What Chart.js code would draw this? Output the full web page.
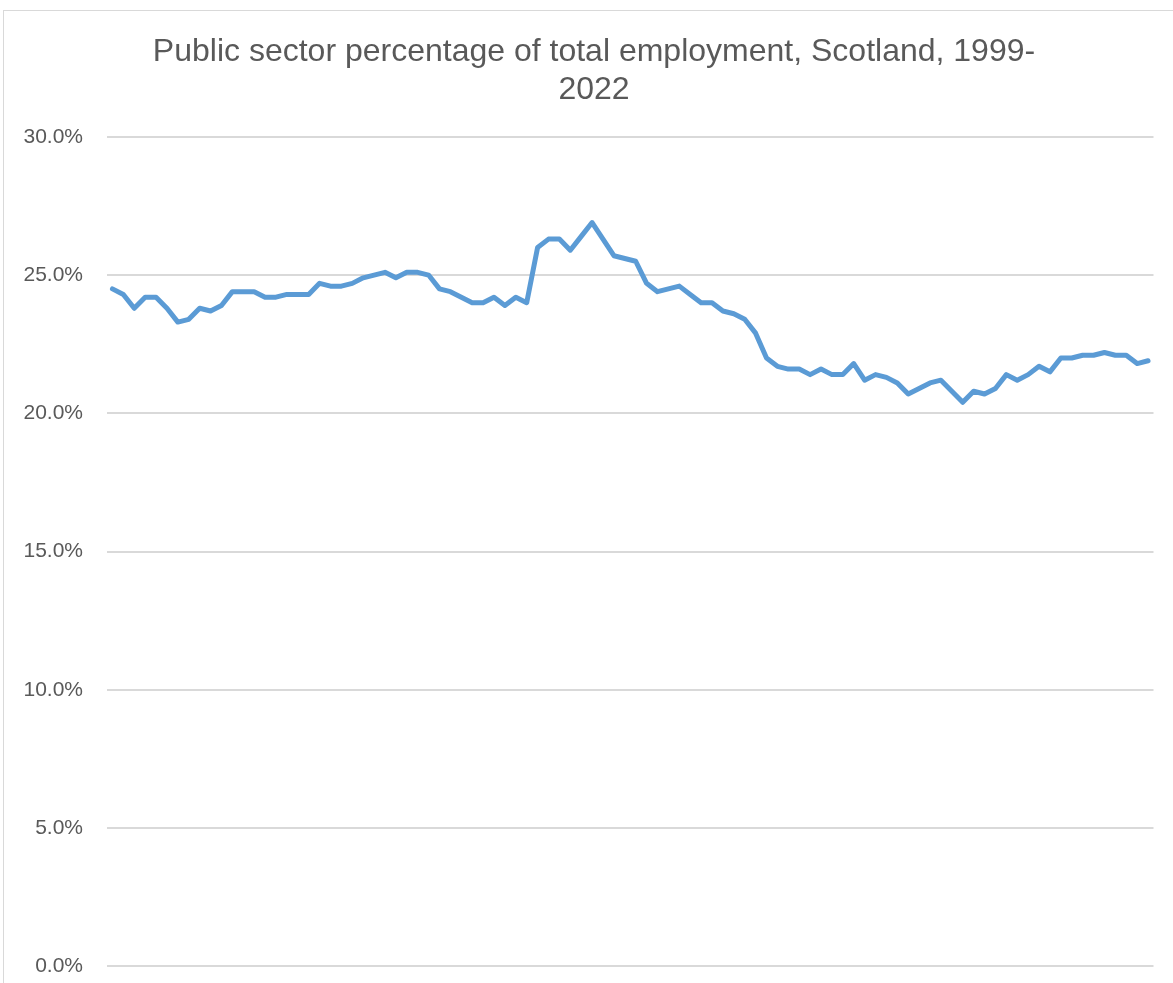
<!DOCTYPE html>
<html>
<head>
<meta charset="utf-8">
<title>Public sector employment, Scotland</title>
<script src="https://cdn.jsdelivr.net/npm/chart.js@4/dist/chart.umd.min.js"></script>
<style>
  html, body { margin: 0; padding: 0; background: #fff; overflow: hidden; }
  #frame {
    position: absolute; left: 3px; top: 10px; width: 1300px; height: 1100px;
    border-left: 1px solid #d9d9d9; border-top: 1px solid #d9d9d9;
  }
  #chart { position: absolute; left: 0; top: 0; }
</style>
</head>
<body>
<div id="frame"></div>
<canvas id="chart" width="1188" height="1003"></canvas>
<script>
// quarterly, 1999 Q1 - 2022 Q4
const years = [1999, 2000, 2001, 2002, 2003, 2004, 2005, 2006, 2007, 2008, 2009, 2010,
  2011, 2012, 2013, 2014, 2015, 2016, 2017, 2018, 2019, 2020, 2021, 2022];
const quarters = ["Q1", "Q2", "Q3", "Q4"];

// public sector share of total employment (%)
const publicShare = [
  24.5, 24.3, 23.8, 24.2, 24.2, 23.8, 23.3, 23.4, 23.8, 23.7, 23.9, 24.4, 24.4, 24.4, 24.2, 24.2,
  24.3, 24.3, 24.3, 24.7, 24.6, 24.6, 24.7, 24.9, 25.0, 25.1, 24.9, 25.1, 25.1, 25.0, 24.5, 24.4,
  24.2, 24.0, 24.0, 24.2, 23.9, 24.2, 24.0, 26.0, 26.3, 26.3, 25.9, 26.4, 26.9, 26.3, 25.7, 25.6,
  25.5, 24.7, 24.4, 24.5, 24.6, 24.3, 24.0, 24.0, 23.7, 23.6, 23.4, 22.9, 22.0, 21.7, 21.6, 21.6,
  21.4, 21.6, 21.4, 21.4, 21.8, 21.2, 21.4, 21.3, 21.1, 20.7, 20.9, 21.1, 21.2, 20.8, 20.4, 20.8,
  20.7, 20.9, 21.4, 21.2, 21.4, 21.7, 21.5, 22.0, 22.0, 22.1, 22.1, 22.2, 22.1, 22.1, 21.8, 21.9
];

const yTicks = [0, 5, 10, 15, 20, 25, 30];

const labels = [];
years.forEach(y => quarters.forEach(q => labels.push(y + " " + q)));

const textColor = "#595959";
const gridColor = "#d9d9d9";

new Chart(document.getElementById("chart"), {
  type: "line",
  data: {
    labels: labels,
    datasets: [{
      label: "Public sector %",
      data: publicShare,
      borderColor: "#5b9bd5",
      backgroundColor: "#5b9bd5",
      borderWidth: 5,
      borderJoinStyle: "round",
      borderCapStyle: "round",
      pointRadius: 0,
      tension: 0,
      fill: false
    }]
  },
  options: {
    responsive: false,
    animation: false,
    devicePixelRatio: 1,
    layout: { padding: { left: 0, right: 0, top: 0, bottom: 0 } },
    plugins: {
      legend: { display: false },
      tooltip: { enabled: false },
      title: {
        display: true,
        text: ["Public sector percentage of total employment, Scotland, 1999-", "2022"],
        color: textColor,
        font: { family: "'Liberation Sans', Arial, sans-serif", size: 32, weight: "normal", lineHeight: 1.2 },
        padding: { top: 33, bottom: 27 }
      }
    },
    scales: {
      x: {
        type: "category",
        display: false,
        offset: true
      },
      y: {
        position: "left",
        min: yTicks[0],
        max: yTicks[yTicks.length - 1],
        afterBuildTicks: s => { s.ticks = yTicks.map(v => ({ value: v })); },
        afterFit: s => { s.width = 107; },
        border: { display: false },
        grid: { color: gridColor, lineWidth: 2, drawTicks: false },
        ticks: {
          padding: 24,
          color: textColor,
          font: { family: "'Liberation Sans', Arial, sans-serif", size: 21 },
          callback: v => v.toFixed(1) + "%"
        }
      },
      yRight: {
        position: "right",
        display: true,
        afterFit: s => { s.width = 34.5; },
        border: { display: false },
        grid: { display: false },
        ticks: { display: false }
      }
    }
  }
});
</script>
</body>
</html>
